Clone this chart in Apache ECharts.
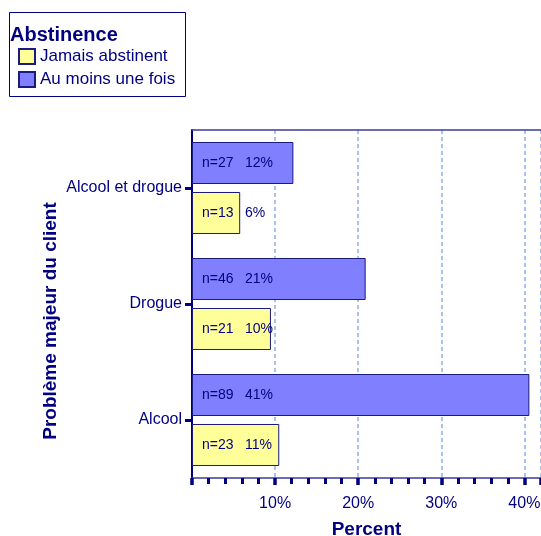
<!DOCTYPE html>
<html>
<head>
<meta charset="utf-8">
<script src="https://cdn.jsdelivr.net/npm/echarts@6/dist/echarts.min.js"></script>
<style>html,body{margin:0;padding:0;background:#fff;overflow:hidden}#c{width:541px;height:536px}</style>
</head>
<body>
<div id="c"></div>
<script>
const categories = ['Alcool', 'Drogue', 'Alcool et drogue'];
const jamaisValues = [10.5, 9.5, 5.8];
const jamaisN = [23, 21, 13];
const jamaisPct = ['11%', '10%', '6%'];
const auMoinsValues = [40.6, 20.9, 12.2];
const auMoinsN = [89, 46, 27];
const auMoinsPct = ['41%', '21%', '12%'];
const xTicks = [0, 10, 20, 30, 40];

const NAVY = '#000080';
const FONT = 'Liberation Sans, Arial, sans-serif';

function mkLabel(nArr, pArr) {
  return {
    show: true,
    position: 'insideLeft',
    distance: 10,
    formatter: p => '{n|n=' + nArr[p.dataIndex] + '}{p|' + pArr[p.dataIndex] + '}',
    rich: {
      n: { width: 43, fontSize: 14, color: NAVY, fontFamily: FONT },
      p: { fontSize: 14, color: NAVY, fontFamily: FONT }
    }
  };
}

const chart = echarts.init(document.getElementById('c'), null, { renderer: 'canvas' });
chart.setOption({
  animation: false,
  textStyle: { fontFamily: FONT },
  graphic: [
    { type: 'rect', shape: { x: 9.5, y: 12.5, width: 176, height: 84 },
      style: { fill: 'none', stroke: NAVY, lineWidth: 1 } },
    { type: 'text', x: 10, y: 25,
      style: { text: 'Abstinence', font: 'bold 20px ' + FONT, fill: NAVY, textVerticalAlign: 'top' } },
    { type: 'text', x: 51, y: 321, rotation: Math.PI / 2,
      style: { text: 'Problème majeur du client', font: 'bold 19px ' + FONT, fill: NAVY,
               textAlign: 'center', textVerticalAlign: 'middle' } }
  ],
  legend: {
    orient: 'vertical', left: 18, top: 48, padding: 0,
    itemWidth: 16, itemHeight: 15, itemGap: 6,
    icon: 'rect',
    data: ['Jamais abstinent', 'Au moins une fois'],
    textStyle: { fontSize: 17, color: NAVY, fontFamily: FONT }
  },
  grid: { left: 192, top: 130, right: 0, bottom: 58, containLabel: false, outerBoundsMode: 'none' },
  xAxis: [{
    type: 'value', min: 0, max: 42, interval: 10,
    name: 'Percent', nameLocation: 'middle', nameGap: 42,
    nameTextStyle: { fontSize: 19, fontWeight: 'bold', color: NAVY, fontFamily: FONT },
    axisLine: { show: true, lineStyle: { color: '#3c3c9c', width: 1.5 } },
    axisTick: { show: true, length: 7, lineStyle: { color: NAVY, width: 3.5 } },
    minorTick: { show: true, splitNumber: 5, length: 6, lineStyle: { color: NAVY, width: 3 } },
    axisLabel: { fontSize: 16, color: NAVY, margin: 18,
      formatter: v => (v > 0 && xTicks.indexOf(v) >= 0) ? v + '%' : '' },
    splitLine: { show: true, lineStyle: { color: '#8fb0e6', type: [4, 3], width: 1.5 } }
  }, {
    type: 'value', position: 'top', min: 0, max: 42,
    axisLine: { show: true, lineStyle: { color: '#3c3c9c', width: 1.5 } },
    axisTick: { show: false }, axisLabel: { show: false }, splitLine: { show: false }
  }],
  yAxis: {
    type: 'category', data: categories,
    axisLine: { show: true, lineStyle: { color: NAVY, width: 2 } },
    axisTick: { show: true, alignWithLabel: true, length: 7, lineStyle: { color: NAVY, width: 3 } },
    axisLabel: { fontSize: 16, color: NAVY, margin: 10, fontFamily: FONT, padding: [12, 0, 0, 0] }
  },
  series: [
    {
      name: 'Au moins une fois', type: 'bar', data: auMoinsValues,
      barWidth: 42, barGap: '19%',
      itemStyle: { color: '#8080FF', borderColor: '#1a1a80', borderWidth: 1 },
      label: mkLabel(auMoinsN, auMoinsPct)
    },
    {
      name: 'Jamais abstinent', type: 'bar', data: jamaisValues,
      barWidth: 42, barGap: '19%',
      itemStyle: { color: '#FFFF99', borderColor: '#1a1a80', borderWidth: 1 },
      label: mkLabel(jamaisN, jamaisPct)
    }
  ]
});
</script>
</body>
</html>
